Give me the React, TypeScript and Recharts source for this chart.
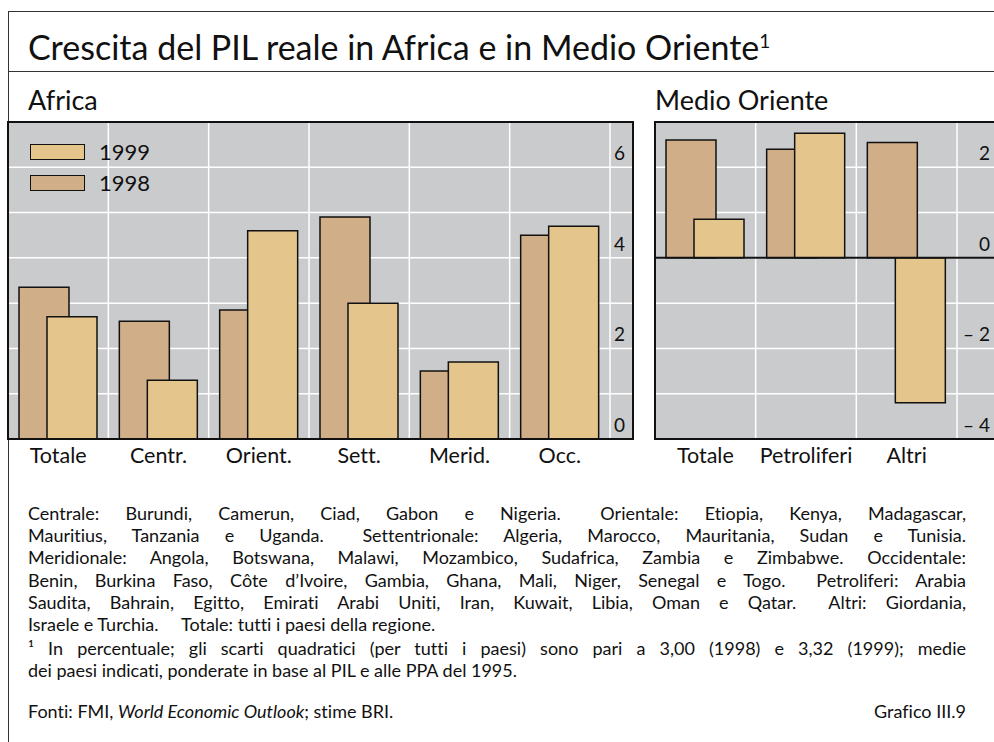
import React from "react";
import {
  BarChart,
  Bar,
  XAxis,
  YAxis,
  CartesianGrid,
  ReferenceLine,
  Legend
} from "recharts";

// DATA (real GDP growth, %)
const africaCategories = ["Totale", "Centr.", "Orient.", "Sett.", "Merid.", "Occ."];
const africa1998 = [3.35, 2.6, 2.85, 4.9, 1.5, 4.5];
const africa1999 = [2.7, 1.3, 4.6, 3.0, 1.7, 4.7];

const meCategories = ["Totale", "Petroliferi", "Altri"];
const me1998 = [2.6, 2.4, 2.55];
const me1999 = [0.85, 2.75, -3.2];

const africaTicks = [0, 1, 2, 3, 4, 5, 6, 7];
const africaLabels = [0, 2, 4, 6];
const meTicks = [-4, -3, -2, -1, 0, 1, 2, 3];
const meLabels = [-4, -2, 0, 2];

const seriesNames = ["1998", "1999"];

const notesA = [
  "Centrale: Burundi, Camerun, Ciad, Gabon e Nigeria.\u2003 Orientale: Etiopia, Kenya, Madagascar,",
  "Mauritius, Tanzania e Uganda.\u2003 Settentrionale: Algeria, Marocco, Mauritania, Sudan e Tunisia.",
  "Meridionale: Angola, Botswana, Malawi, Mozambico, Sudafrica, Zambia e Zimbabwe. Occidentale:",
  "Benin, Burkina Faso, Côte d\u2019Ivoire, Gambia, Ghana, Mali, Niger, Senegal e Togo.\u2003 Petroliferi: Arabia",
  "Saudita, Bahrain, Egitto, Emirati Arabi Uniti, Iran, Kuwait, Libia, Oman e Qatar.\u2003 Altri: Giordania,"
];
const notesALast = "Israele e Turchia.\u2003\u2002Totale: tutti i paesi della regione.";
const notesB =
  "\u00b9 In percentuale; gli scarti quadratici (per tutti i paesi) sono pari a 3,00 (1998) e 3,32 (1999); medie";
const notesBLast = "dei paesi indicati, ponderate in base al PIL e alle PPA del 1995.";

const BG = "#cacbcd";
const C1998 = "#cfae88";
const C1999 = "#e4c68c";
const INK = "#111";
const FONT = "Lato, 'Open Sans', sans-serif";

const africaData = africaCategories.map((name, i) => ({
  name,
  y1998: africa1998[i],
  y1999: africa1999[i]
}));

const meData = meCategories.map((name, i) => ({
  name,
  y1998: me1998[i],
  y1999: me1999[i]
}));

const fmt = (v: number) => (v < 0 ? "\u2013 " + Math.abs(v) : String(v));

const makeTick = (labels: number[]) => (props: any) => {
  const { x, y, payload } = props;
  if (!labels.includes(payload.value)) return <g />;
  return (
    <text x={x} y={y - 7} textAnchor="end" fill={INK} fontSize={19}>
      {fmt(payload.value)}
    </text>
  );
};

const renderLegend = (props: any) => {
  const items = [...(props.payload || [])].reverse();
  return (
    <div>
      {items.map((it: any) => (
        <div
          key={it.value}
          style={{ display: "flex", alignItems: "center", height: 31 }}
        >
          <span
            style={{
              display: "inline-block",
              width: 61,
              height: 16,
              background: it.color,
              border: "1.5px solid " + INK,
              boxSizing: "border-box"
            }}
          />
          <span style={{ marginLeft: 14, fontSize: 22, color: INK }}>
            {it.value}
          </span>
        </div>
      ))}
    </div>
  );
};

function Panel(props: {
  data: any[];
  categories: string[];
  ticks: number[];
  labels: number[];
  domain: [number, number];
  width: number;
  margin: any;
  labelCol: number;
  withLegend?: boolean;
  zeroLine?: boolean;
}) {
  const { data, categories, ticks, labels, width, margin, labelCol } = props;
  const last = categories[categories.length - 1];
  return (
    <BarChart
      width={width}
      height={380}
      data={data}
      margin={margin}
      barSize={50}
      barGap={-22}
    >
      <CartesianGrid
        vertical={false}
        stroke="#fff"
        strokeWidth={1.5}
        fill={BG}
        fillOpacity={1}
      />

      {categories.slice(1).map((c) => (
        <ReferenceLine
          key={c}
          x={c}
          position="start"
          stroke="#fff"
          strokeWidth={1.5}
        />
      ))}
      <ReferenceLine x={last} position="end" stroke="#fff" strokeWidth={1.5} />

      <XAxis
        dataKey="name"
        padding={{ left: 0, right: labelCol }}
        axisLine={false}
        tickLine={false}
        tickSize={0}
        tickMargin={9}
        height={36}
        interval={0}
        tick={{ fill: INK, fontSize: 21.5 }}
      />

      <YAxis
        orientation="right"
        mirror
        domain={props.domain}
        ticks={ticks}
        interval={0}
        axisLine={false}
        tickLine={false}
        tickSize={0}
        tickMargin={8}
        tick={makeTick(labels)}
        allowDataOverflow
      />

      <Bar
        dataKey="y1998"
        name={seriesNames[0]}
        fill={C1998}
        stroke={INK}
        strokeWidth={1.5}
        isAnimationActive={false}
      />
      <Bar
        dataKey="y1999"
        name={seriesNames[1]}
        fill={C1999}
        stroke={INK}
        strokeWidth={1.5}
        isAnimationActive={false}
      />

      {props.zeroLine && <ReferenceLine y={0} stroke={INK} strokeWidth={2} />}

      {props.withLegend && (
        <Legend
          layout="vertical"
          align="center"
          verticalAlign="middle"
          content={renderLegend}
          wrapperStyle={{ left: 30, top: 36, width: 120 }}
        />
      )}
    </BarChart>
  );
}

const lineStyle: React.CSSProperties = {
  whiteSpace: "nowrap",
  textAlign: "justify",
  textAlignLast: "justify" as any,
  height: 22.2
};

const notesBox: React.CSSProperties = {
  position: "absolute",
  left: 28,
  width: 938,
  fontSize: 18,
  lineHeight: "22.2px",
  fontVariantLigatures: "none"
};

export default function App() {
  return (
    <div
      style={{
        position: "absolute",
        left: 0,
        top: 0,
        width: 994,
        height: 742,
        overflow: "hidden",
        background: "#fff",
        fontFamily: FONT,
        color: INK,
        fontVariantLigatures: "none"
      }}
    >
      {/* outer frame */}
      <div
        style={{
          position: "absolute",
          left: 7.5,
          top: 11,
          width: 1100,
          height: 900,
          border: "1.5px solid #333"
        }}
      />
      <div
        style={{
          position: "absolute",
          left: 7.5,
          top: 71,
          width: 1100,
          height: 0,
          borderTop: "1.5px solid #333"
        }}
      />

      <div
        style={{
          position: "absolute",
          left: 28,
          top: 23.8,
          fontSize: 34,
          lineHeight: "34px",
          whiteSpace: "nowrap"
        }}
      >
        Crescita del PIL reale in Africa e in Medio Oriente
        <span style={{ fontSize: 19, verticalAlign: 12 }}>1</span>
      </div>

      <div style={{ position: "absolute", left: 28, top: 86, fontSize: 27, lineHeight: "27px" }}>
        Africa
      </div>
      <div style={{ position: "absolute", left: 655, top: 86, fontSize: 27, lineHeight: "27px" }}>
        Medio Oriente
      </div>

      {/* AFRICA */}
      <div style={{ position: "absolute", left: 0, top: 100 }}>
        <Panel
          data={africaData}
          categories={africaCategories}
          ticks={africaTicks}
          labels={africaLabels}
          domain={[0, 7]}
          width={640}
          margin={{ top: 22, right: 7, left: 8, bottom: 5 }}
          labelCol={23}
          withLegend
        />
      </div>
      <div
        style={{
          position: "absolute",
          left: 7,
          top: 121,
          width: 627,
          height: 319,
          border: "2px solid " + INK,
          boxSizing: "border-box",
          pointerEvents: "none"
        }}
      />

      {/* MEDIO ORIENTE */}
      <div style={{ position: "absolute", left: 640, top: 100 }}>
        <Panel
          data={meData}
          categories={meCategories}
          ticks={meTicks}
          labels={meLabels}
          domain={[-4, 3]}
          width={360}
          margin={{ top: 22, right: 2, left: 15, bottom: 5 }}
          labelCol={41}
          zeroLine
        />
      </div>
      <div
        style={{
          position: "absolute",
          left: 654,
          top: 121,
          width: 346,
          height: 319,
          border: "2px solid " + INK,
          boxSizing: "border-box",
          pointerEvents: "none"
        }}
      />

      {/* NOTES */}
      <div style={{ ...notesBox, top: 502 }}>
        {notesA.map((l) => (
          <div key={l} style={lineStyle}>
            {l}
          </div>
        ))}
        <div style={{ whiteSpace: "nowrap" }}>{notesALast}</div>
      </div>

      <div style={{ ...notesBox, top: 637 }}>
        <div style={lineStyle}>{notesB}</div>
        <div style={{ whiteSpace: "nowrap" }}>{notesBLast}</div>
      </div>

      <div
        style={{
          ...notesBox,
          top: 700,
          display: "flex",
          justifyContent: "space-between"
        }}
      >
        <span>
          Fonti: FMI, <i>World Economic Outlook</i>; stime BRI.
        </span>
        <span>Grafico III.9</span>
      </div>
    </div>
  );
}
